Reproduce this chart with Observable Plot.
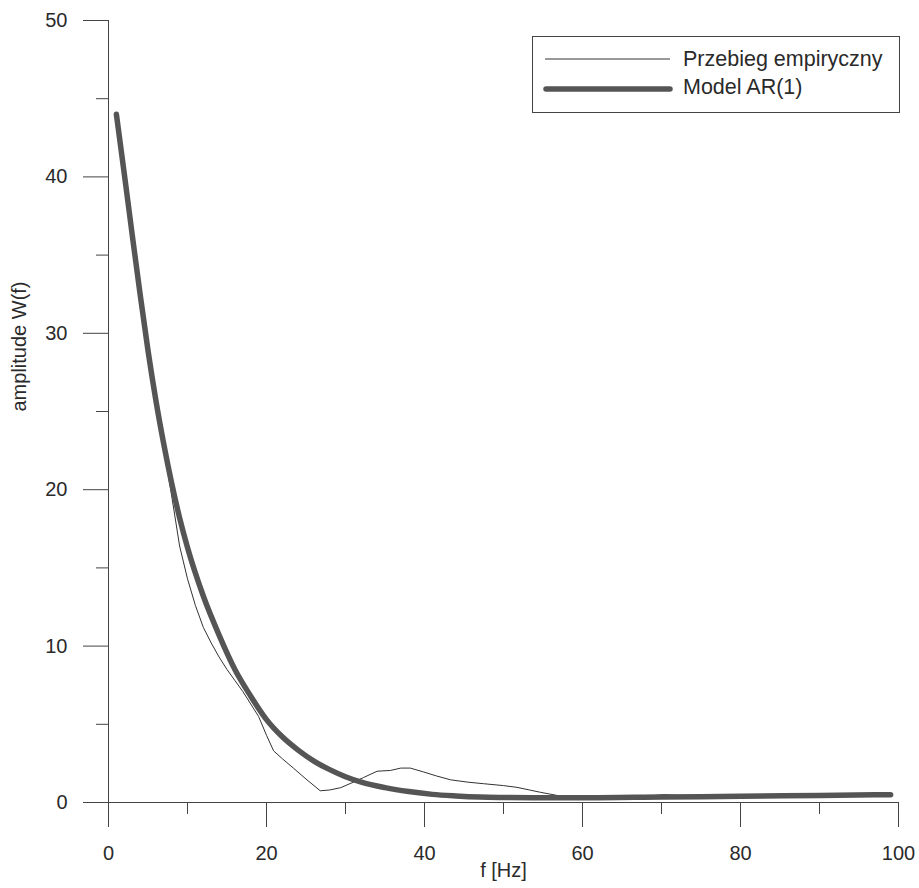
<!DOCTYPE html>
<html>
<head>
<meta charset="utf-8">
<script src="https://cdn.jsdelivr.net/npm/d3@7"></script>
<script src="https://cdn.jsdelivr.net/npm/@observablehq/plot@0.6"></script>
<style>
  html, body { margin: 0; padding: 0; background: #fff; }
  #wrap { position: relative; width: 919px; height: 888px; }
  #legend { position: absolute; left: 0; top: 0; pointer-events: none; }
</style>
</head>
<body>
<div id="wrap"></div>
<script>
// ---- data ----
const xTicks = [0, 20, 40, 60, 80, 100];
const xMinorTicks = [10, 30, 50, 70, 90];
const yTicks = [0, 10, 20, 30, 40, 50];
const yMinorTicks = [5, 15, 25, 35, 45];

const seriesNames = ["Przebieg empiryczny", "Model AR(1)"];

// empirical spectrum (thin line)
const empF = [1, 2, 3, 4, 5, 6, 7, 8, 9, 10, 11, 12, 13, 14, 15, 16, 17, 18, 19, 20, 20.9, 22, 23.4, 25, 26.8, 28, 29.4, 31, 32.3, 34, 35.7, 37, 38.2, 39.9, 41.5, 43.3, 45.5, 47.5, 50, 51.7, 53.3, 54.7, 56.8, 58, 60, 65, 68, 70.3, 72, 75, 80, 90, 98.5];
const empW = [44.0, 40.3, 36.2, 32.4, 28.8, 25.6, 22.7, 19.6, 16.4, 14.3, 12.6, 11.2, 10.2, 9.3, 8.5, 7.8, 7.1, 6.3, 5.5, 4.3, 3.3, 2.8, 2.2, 1.5, 0.75, 0.8, 0.95, 1.3, 1.6, 2.0, 2.05, 2.2, 2.2, 1.95, 1.7, 1.45, 1.3, 1.2, 1.08, 0.97, 0.8, 0.65, 0.45, 0.37, 0.33, 0.33, 0.4, 0.5, 0.45, 0.4, 0.42, 0.47, 0.5];

// AR(1) model spectrum (thick line)
const modF = [1, 2, 3, 4, 5, 6, 7, 8, 9, 10, 12, 14, 16, 18, 20, 22, 24, 26, 28, 30, 32, 35, 38, 41, 44, 47, 50, 55, 60, 70, 80, 90, 99];
const modW = [44.0, 40.2, 36.3, 32.5, 28.9, 25.7, 22.9, 20.4, 18.2, 16.3, 13.2, 10.7, 8.5, 6.8, 5.3, 4.2, 3.35, 2.65, 2.1, 1.65, 1.3, 0.95, 0.7, 0.52, 0.42, 0.35, 0.32, 0.3, 0.3, 0.35, 0.4, 0.45, 0.5];

const empData = empF.map((f, i) => ({f, w: empW[i]}));
const modData = modF.map((f, i) => ({f, w: modW[i]}));

const FONT = "'Liberation Sans', Arial, Helvetica, sans-serif";
const AXIS = "#444";
const TEXT = "#2a2a2a";

const chart = Plot.plot({
  width: 919,
  height: 888,
  marginLeft: 108,
  marginRight: 21,
  marginTop: 20,
  marginBottom: 86,
  style: {fontFamily: FONT, background: "#fff", color: TEXT, overflow: "visible"},
  x: {domain: [0, 100]},
  y: {domain: [0, 50]},
  marks: [
    Plot.ruleX([0], {y1: 0, y2: 50, stroke: AXIS, strokeWidth: 1}),
    Plot.ruleY([0], {x1: 0, x2: 100, stroke: AXIS, strokeWidth: 1}),
    Plot.axisX(xTicks, {tickSize: 25, tickPadding: 18, fontSize: 20, stroke: AXIS, fill: TEXT, label: null}),
    Plot.axisX(xMinorTicks, {tickSize: 12, tickFormat: () => "", stroke: AXIS, label: null}),
    Plot.axisY(yTicks, {tickSize: 25, tickPadding: 16, fontSize: 20, stroke: AXIS, fill: TEXT, label: null}),
    Plot.axisY(yMinorTicks, {tickSize: 12, tickFormat: () => "", stroke: AXIS, label: null}),
    Plot.line(empData, {x: "f", y: "w", stroke: "#333", strokeWidth: 1}),
    Plot.line(modData, {x: "f", y: "w", curve: "monotone-x", stroke: "#555", strokeWidth: 5.5, strokeLinecap: "round", strokeLinejoin: "round"}),
    Plot.text(["f [Hz]"], {text: d => d, frameAnchor: "bottom", dy: 74, fontSize: 20, fill: TEXT}),
    Plot.text(["amplitude W(f)"], {text: d => d, frameAnchor: "left", dx: -89, rotate: -90, fontSize: 20, fill: TEXT})
  ]
});

const wrap = document.getElementById("wrap");
wrap.appendChild(chart);

// legend overlay (inside the plot area, top right)
const ns = "http://www.w3.org/2000/svg";
const lg = document.createElementNS(ns, "svg");
lg.setAttribute("id", "legend");
lg.setAttribute("width", 919);
lg.setAttribute("height", 888);
lg.style.fontFamily = FONT;
function el(name, attrs, txt) {
  const e = document.createElementNS(ns, name);
  for (const k in attrs) e.setAttribute(k, attrs[k]);
  if (txt) e.textContent = txt;
  lg.appendChild(e);
  return e;
}
el("rect", {x: 532.5, y: 36.5, width: 367, height: 76, fill: "#fff", stroke: AXIS, "stroke-width": 1});
el("line", {x1: 545, y1: 59, x2: 670, y2: 59, stroke: "#333", "stroke-width": 1});
el("line", {x1: 546, y1: 89, x2: 670, y2: 89, stroke: "#555", "stroke-width": 5.5, "stroke-linecap": "round"});
el("text", {x: 683, y: 66, "font-size": 21.5, fill: TEXT}, seriesNames[0]);
el("text", {x: 683, y: 94, "font-size": 21.5, fill: TEXT}, seriesNames[1]);
wrap.appendChild(lg);
</script>
</body>
</html>
